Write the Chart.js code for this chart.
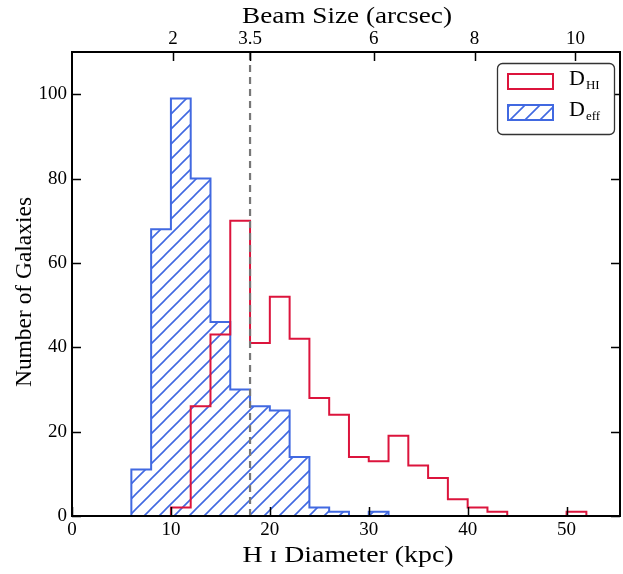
<!DOCTYPE html>
<html>
<head>
<meta charset="utf-8">
<script src="https://cdn.jsdelivr.net/npm/chart.js@4.4.1/dist/chart.umd.min.js"></script>
<style>
  html, body { margin: 0; padding: 0; background: #fff; }
  canvas { display: block; }
</style>
</head>
<body>
<canvas id="histChart" width="623" height="574"></canvas>
<script>
// histogram bins (kpc) and counts
const deffEdges = [6, 8, 10, 12, 14, 16, 18, 20, 22, 24, 26, 28, 30, 32];
const deffCounts = [11, 68, 99, 80, 46, 30, 26, 25, 14, 2, 1, 0, 1];
const dhiEdges = [10, 12, 14, 16, 18, 20, 22, 24, 26, 28, 30, 32, 34, 36, 38, 40, 42, 44, 46, 48, 50, 52];
const dhiCounts = [2, 26, 43, 70, 41, 52, 42, 28, 24, 14, 13, 19, 12, 9, 4, 2, 1, 0, 0, 0, 1];

// axis ticks
const xTicks = [0, 10, 20, 30, 40, 50];
const yTicks = [0, 20, 40, 60, 80, 100];
const beamLabels = ['2', '3.5', '6', '8', '10'];
const beamTickPos = [10.2, 18, 30.5, 40.7, 50.9];   // kpc position of each beam size
const beamLimit = 18;   // 3.5 arcsec

const serif = '"Liberation Serif", "DejaVu Serif", serif';
const red = '#dc143c';
const blue = '#4169e1';

function stepPoints(edges, counts) {
    const pts = [{ x: edges[0], y: 0 }];
    counts.forEach((c, i) => pts.push({ x: edges[i], y: c }));
    pts.push({ x: edges[edges.length - 1], y: 0 });
    return pts;
}

function makeHatch(color) {
    const size = 15;
    const c = document.createElement('canvas');
    c.width = size;
    c.height = size;
    const g = c.getContext('2d');
    g.strokeStyle = color;
    g.lineWidth = 1.6;
    g.beginPath();
    g.moveTo(-2, size + 2); g.lineTo(size + 2, -2);
    g.moveTo(-2, 2); g.lineTo(2, -2);
    g.moveTo(size - 2, size + 2); g.lineTo(size + 2, size - 2);
    g.stroke();
    return g.createPattern(c, 'repeat');
}

const hatch = makeHatch(blue);

// frame + inward ticks like the original figure
const framePlugin = {
    id: 'frame',
    afterDatasetsDraw(chart) {
        const ctx = chart.ctx;
        const { left, right, top, bottom } = chart.chartArea;
        const sx = chart.scales.x, sy = chart.scales.y;
        const tl = 9;
        ctx.save();
        ctx.strokeStyle = '#000';
        ctx.lineWidth = 1.5;
        ctx.beginPath();
        xTicks.forEach(v => {
            const px = Math.round(sx.getPixelForValue(v)) + 0.5;
            ctx.moveTo(px, bottom); ctx.lineTo(px, bottom - tl);
        });
        beamTickPos.forEach(v => {
            const px = Math.round(sx.getPixelForValue(v)) + 0.5;
            ctx.moveTo(px, top); ctx.lineTo(px, top + tl);
        });
        yTicks.forEach(v => {
            const py = Math.round(sy.getPixelForValue(v)) + 0.5;
            ctx.moveTo(left, py); ctx.lineTo(left + tl, py);
            ctx.moveTo(right, py); ctx.lineTo(right - tl, py);
        });
        ctx.stroke();
        ctx.lineWidth = 2;
        ctx.strokeRect(left, top, right - left, bottom - top);
        ctx.restore();
    }
};

// axis titles, stretched a bit to get the wide Computer Modern look
function drawTitle(ctx, text, x, y, width, vertical) {
    ctx.save();
    ctx.font = '23px ' + serif;
    ctx.fillStyle = '#000';
    ctx.textAlign = 'center';
    ctx.textBaseline = 'alphabetic';
    const s = width / ctx.measureText(text).width;
    ctx.translate(x, y);
    if (vertical) ctx.rotate(-Math.PI / 2);
    ctx.scale(s, 1);
    ctx.fillText(text, 0, 0);
    ctx.restore();
}

const titlePlugin = {
    id: 'titles',
    afterDraw(chart) {
        const ctx = chart.ctx;
        drawTitle(ctx, 'Beam Size (arcsec)', 347, 23, 210, false);
        drawTitle(ctx, 'H ɪ Diameter (kpc)', 348, 562, 211, false);
        drawTitle(ctx, 'Number of Galaxies', 31, 292, 190, true);
    }
};

// legend with subscripts
const legendPlugin = {
    id: 'subLegend',
    afterDraw(chart) {
        const ctx = chart.ctx;
        ctx.save();
        ctx.beginPath();
        ctx.roundRect(497.5, 63.5, 117, 71, 5);
        ctx.fillStyle = '#fff';
        ctx.fill();
        ctx.strokeStyle = '#333';
        ctx.lineWidth = 1.3;
        ctx.stroke();

        ctx.lineWidth = 2;
        ctx.strokeStyle = red;
        ctx.strokeRect(508, 74, 45, 15);
        ctx.fillStyle = hatch;
        ctx.fillRect(508, 105, 45, 15);
        ctx.strokeStyle = blue;
        ctx.strokeRect(508, 105, 45, 15);

        const entries = [['HI', 85], ['eff', 116]];
        ctx.fillStyle = '#000';
        ctx.textBaseline = 'alphabetic';
        entries.forEach(([sub, base]) => {
            ctx.font = '22px ' + serif;
            ctx.fillText('D', 569, base);
            const w = ctx.measureText('D').width;
            ctx.font = '13px ' + serif;
            ctx.fillText(sub, 569 + w + 1, base + 4);
        });
        ctx.restore();
    }
};

const tickFont = { family: serif, size: 19 };

const ctx = document.getElementById('histChart').getContext('2d');
const histChart = new Chart(ctx, {
    type: 'line',
    data: {
        datasets: [{
            label: 'beam limit',
            data: [{ x: beamLimit, y: 0 }, { x: beamLimit, y: 110 }],
            borderColor: '#777',
            borderDash: [7, 5],
            borderWidth: 2.2,
            pointRadius: 0
        }, {
            label: 'D_HI',
            data: stepPoints(dhiEdges, dhiCounts),
            stepped: true,
            borderColor: red,
            borderWidth: 2,
            fill: false,
            pointRadius: 0
        }, {
            label: 'D_eff',
            data: stepPoints(deffEdges, deffCounts),
            stepped: true,
            borderColor: blue,
            borderWidth: 2,
            backgroundColor: hatch,
            fill: 'origin',
            pointRadius: 0
        }]
    },
    options: {
        responsive: false,
        animation: false,
        layout: { padding: { right: 3 } },
        plugins: {
            legend: { display: false },
            tooltip: { enabled: false }
        },
        scales: {
            x: {
                type: 'linear',
                position: 'bottom',
                min: 0,
                max: 55.4,
                grid: { display: false, drawTicks: false },
                border: { display: false },
                afterBuildTicks: s => { s.ticks = xTicks.map(v => ({ value: v })); },
                afterFit: s => { s.height = 58; },
                ticks: { color: '#000', font: tickFont, padding: 3, maxRotation: 0, autoSkip: false, callback: v => v }
            },
            xTop: {
                type: 'linear',
                position: 'top',
                min: 0,
                max: 55.4,
                grid: { display: false, drawTicks: false },
                border: { display: false },
                afterBuildTicks: s => { s.ticks = beamTickPos.map(v => ({ value: v })); },
                afterFit: s => { s.height = 52; },
                ticks: { color: '#000', font: tickFont, padding: 2, maxRotation: 0, autoSkip: false, callback: (v, i) => beamLabels[i] }
            },
            y: {
                min: 0,
                max: 110,
                grid: { display: false, drawTicks: false },
                border: { display: false },
                afterBuildTicks: s => { s.ticks = yTicks.map(v => ({ value: v })); },
                afterFit: s => { s.width = 72; },
                ticks: { color: '#000', font: tickFont, padding: 5, autoSkip: false }
            }
        }
    },
    plugins: [framePlugin, titlePlugin, legendPlugin]
});
</script>
</body>
</html>
